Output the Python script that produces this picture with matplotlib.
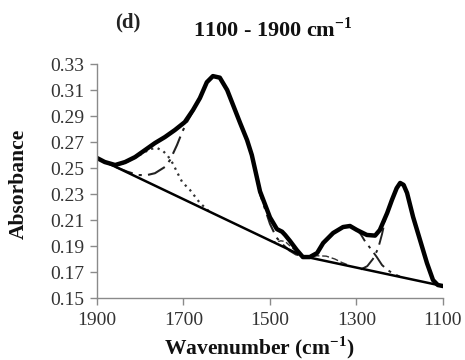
import matplotlib
matplotlib.use("Agg")
import matplotlib.pyplot as plt

plt.rcParams['font.family'] = ['Liberation Serif', 'DejaVu Serif']
plt.rcParams['mathtext.fontset'] = 'custom'
plt.rcParams['mathtext.rm'] = 'Liberation Serif'
plt.rcParams['mathtext.bf'] = 'Liberation Serif:bold'

# Measured spectrum (thick line)
main_wn = [1900, 1882, 1858, 1835, 1812, 1789, 1766, 1743, 1720, 1697, 1678, 1662,
           1646, 1632, 1616, 1599, 1586, 1569, 1553, 1542, 1523, 1500, 1484, 1472, 1465,
           1454, 1438, 1424, 1408, 1391, 1377, 1354, 1331, 1315, 1299, 1276, 1257,
           1246, 1229, 1218, 1207, 1199, 1191, 1183, 1169, 1153, 1137, 1123, 1112, 1100]
main_ab = [0.2577, 0.2546, 0.2523, 0.2546, 0.2584, 0.2638, 0.2692, 0.2738, 0.2792, 0.2853, 0.2946, 0.3038,
           0.3160, 0.3207, 0.3195, 0.3100, 0.2990, 0.2846, 0.2715, 0.2600, 0.2320, 0.2120, 0.2030, 0.2010, 0.1985,
           0.1940, 0.1869, 0.1815, 0.1815, 0.1846, 0.1923, 0.2000, 0.2046, 0.2054, 0.2023, 0.1985, 0.1980,
           0.2023, 0.2154, 0.2254, 0.2345, 0.2385, 0.2370, 0.2308, 0.2123, 0.1946, 0.1769, 0.1638, 0.1600, 0.1592]

# Baseline
base_wn = [1900, 1424, 1100]
base_ab = [0.2577, 0.1822, 0.1592]

# Component ~1760 (dotted)
c1760_wn = [1858, 1835, 1812, 1789, 1777, 1761, 1747, 1736, 1724, 1715, 1703, 1685, 1662, 1639]
c1760_ab = [0.2515, 0.2540, 0.2580, 0.2623, 0.2646, 0.2654, 0.2630, 0.2592, 0.2531, 0.2469, 0.2392, 0.2331, 0.2231, 0.2161]

# Component ~1630 (dash-dot)
c1630_wn = [1858, 1830, 1805, 1785, 1766, 1743, 1731, 1715, 1703, 1692, 1680, 1673, 1662,
            1646, 1632, 1616, 1599, 1586, 1569, 1553, 1542, 1523, 1500, 1485, 1470, 1455, 1440, 1424]
c1630_ab = [0.2510, 0.2472, 0.2446, 0.2445, 0.2460, 0.2508, 0.2562, 0.2677, 0.2777, 0.2853, 0.2923, 0.2969, 0.3038,
            0.3160, 0.3207, 0.3195, 0.3100, 0.2990, 0.2846, 0.2715, 0.2600, 0.2300, 0.2070, 0.1965, 0.1910, 0.1865, 0.1835, 0.1822]

# Shoulder ~1470
c1470_wn = [1500, 1485, 1475, 1465, 1450, 1435, 1424]
c1470_ab = [0.1937, 0.1930, 0.1940, 0.1935, 0.1890, 0.1850, 0.1822]

# Small component ~1370
c1370_wn = [1424, 1405, 1391, 1370, 1350, 1335, 1320]
c1370_ab = [0.1822, 0.1818, 0.1825, 0.1822, 0.1800, 0.1775, 0.1755]

# Component ~1320
c1320_wn = [1424, 1408, 1391, 1377, 1354, 1331, 1315, 1299, 1290, 1280, 1265, 1253, 1241, 1228, 1216, 1200]
c1320_ab = [0.1822, 0.1815, 0.1846, 0.1923, 0.2000, 0.2046, 0.2054, 0.2023, 0.1990, 0.1935, 0.1870, 0.1815, 0.1754, 0.1715, 0.1690, 0.1665]

# Component ~1200
c1200_wn = [1290, 1275, 1262, 1250, 1241, 1233, 1229, 1218, 1207, 1199, 1191, 1183, 1169, 1153, 1137, 1123, 1112, 1100]
c1200_ab = [0.1720, 0.1745, 0.1800, 0.1880, 0.1990, 0.2110, 0.2154, 0.2254, 0.2345, 0.2385, 0.2370, 0.2308, 0.2123, 0.1946, 0.1769, 0.1638, 0.1600, 0.1592]

xticks = [1900, 1700, 1500, 1300, 1100]
yticks = [0.15, 0.17, 0.19, 0.21, 0.23, 0.25, 0.27, 0.29, 0.31, 0.33]

fig = plt.figure(figsize=(4.65, 3.6), dpi=100)
ax = fig.add_axes([0.2086, 0.1722, 0.744, 0.65])

dashdot = (0, (9, 3, 1.5, 3))
ax.plot(c1760_wn, c1760_ab, color='#333333', lw=1.6, linestyle=(0, (1, 2)))
ax.plot(c1630_wn, c1630_ab, color='#222222', lw=1.5, linestyle=dashdot)
ax.plot(c1470_wn, c1470_ab, color='#333333', lw=1.0, linestyle=(0, (4, 2)))
ax.plot(c1370_wn, c1370_ab, color='#333333', lw=1.0, linestyle=(0, (5, 2)))
ax.plot(c1320_wn, c1320_ab, color='#222222', lw=1.4, linestyle=dashdot)
ax.plot(c1200_wn, c1200_ab, color='#222222', lw=1.4, linestyle=dashdot)
ax.plot(base_wn, base_ab, color='black', lw=1.8, solid_capstyle='round')
ax.plot(main_wn, main_ab, color='black', lw=3.2, solid_joinstyle='round', solid_capstyle='round')

ax.set_xlim(1900, 1100)
ax.set_ylim(0.15, 0.33)
ax.set_xticks(xticks)
ax.set_yticks(yticks)
ax.set_xticklabels([str(v) for v in xticks])
ax.set_yticklabels(['%.2f' % v for v in yticks])
for s in ['top', 'right']:
    ax.spines[s].set_visible(False)
for s in ['left', 'bottom']:
    ax.spines[s].set_color('#8a8a8a')
    ax.spines[s].set_linewidth(1.0)
ax.tick_params(axis='both', colors='#8a8a8a', labelcolor='#333333', labelsize=14,
               length=5, width=1.0, direction='out')
ax.tick_params(axis='x', pad=5)
ax.tick_params(axis='y', pad=4)

fig.text(0.275, 0.937, '(d)', fontsize=15, fontweight='bold', ha='center', va='center', color='#222222')
fig.text(0.587, 0.917, r'1100 - 1900 cm$^{\mathbf{-1}}$', fontsize=16, fontweight='bold',
         ha='center', va='center', color='#111111')
fig.text(0.557, 0.035, r'Wavenumber (cm$^{\mathbf{-1}}$)', fontsize=15.5, fontweight='bold',
         ha='center', va='center', color='#111111')
fig.text(0.04, 0.49, 'Absorbance', fontsize=15.5, fontweight='bold', rotation=90,
         ha='center', va='center', color='#111111')

fig.savefig('out.png', dpi=100)
